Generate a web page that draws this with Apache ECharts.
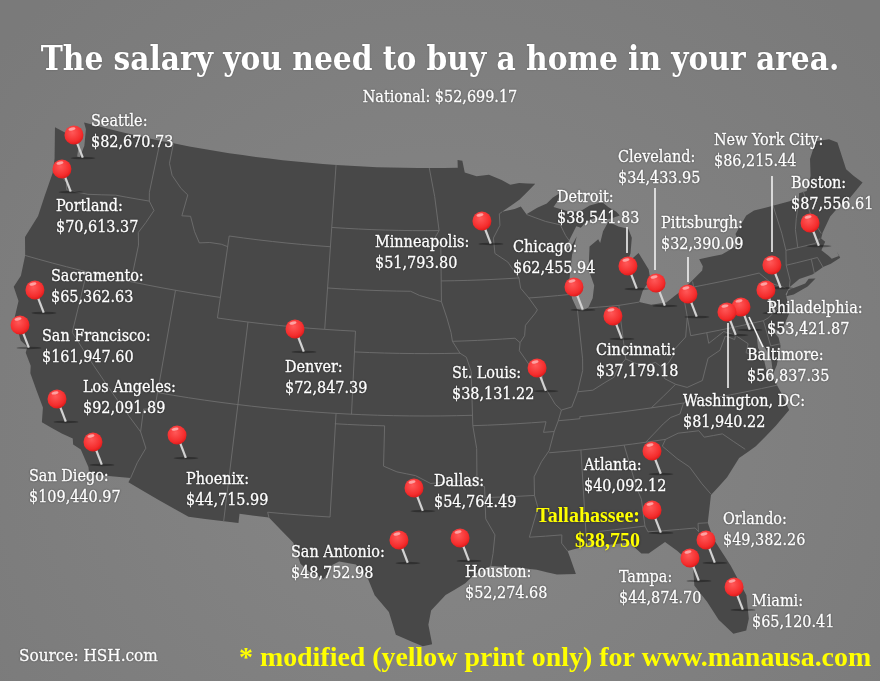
<!DOCTYPE html>
<html>
<head>
<meta charset="utf-8">
<style>html,body{margin:0;padding:0;background:#808080}#main{width:880px;height:681px}</style>
<script src="https://cdn.jsdelivr.net/npm/echarts@6/dist/echarts.min.js"></script>
</head>
<body>
<div id="main"></div>
<script>
var titleText = 'The salary you need to buy a home in your area.';
var nationalText = 'National: $52,699.17';
var sourceText = 'Source: HSH.com';
var noteText = '* modified (yellow print only) for www.manausa.com';

var cityNames = ['Seattle','Portland','Sacramento','San Francisco','Los Angeles','San Diego','Phoenix','Denver','San Antonio','Dallas','Houston','St. Louis','Minneapolis','Chicago','Cincinnati','Detroit','Cleveland','Pittsburgh','New York City','Boston','Philadelphia','Baltimore','Washington, DC','Atlanta','Tallahassee','Orlando','Tampa','Miami'];
var citySalaries = [82670.73,70613.37,65362.63,161947.60,92091.89,109440.97,44715.99,72847.39,48752.98,54764.49,52274.68,38131.22,51793.80,62455.94,37179.18,38541.83,34433.95,32390.09,86215.44,87556.61,53421.87,56837.35,81940.22,40092.12,38750,49382.26,44874.70,65120.41];
var cityLon = [-122.17,-122.37,-122.04,-122.38,-119.11,-116.50,-111.71,-105.27,-98.49,-97.65,-95.06,-90.00,-92.99,-87.17,-84.89,-83.47,-81.82,-79.91,-74.20,-71.07,-74.96,-76.75,-77.69,-83.67,-84.15,-81.43,-82.46,-80.37];
var cityLat = [47.30,45.55,39.57,37.76,34.74,33.08,34.11,39.84,29.90,32.42,29.98,37.97,45.22,41.69,40.08,42.36,41.34,40.55,41.05,42.53,39.95,39.43,39.33,33.38,30.56,28.72,27.98,26.22];

var usOutline = [[-122.76,49],[-95.15,49],[-95.15,49.38],[-94.8,49.33],[-94.65,48.75],[-93.8,48.55],[-92.9,48.6],[-92,48.3],[-91.4,48.05],[-90.75,48.1],[-89.6,48],[-90.8,47.3],[-92.1,46.75],[-91.2,46.85],[-90.75,46.95],[-90.4,46.55],[-89.6,46.83],[-88.9,47],[-88.45,47.25],[-87.8,47.47],[-88.2,47],[-88.45,46.8],[-87.4,46.5],[-86.6,46.45],[-85.9,46.68],[-85,46.77],[-84.6,46.47],[-84.1,46.2],[-83.9,46],[-84.7,45.9],[-85.5,46.08],[-86.3,45.9],[-86.7,45.65],[-87,45.75],[-87.6,45.1],[-88,44.55],[-87.4,44.9],[-87.05,45.25],[-87.5,44.4],[-87.75,43.6],[-87.9,43],[-87.8,42.3],[-87.55,41.75],[-87.2,41.65],[-86.8,41.78],[-86.45,42.2],[-86.25,42.8],[-86.5,43.6],[-86.25,44.7],[-85.6,45],[-85.5,44.8],[-85.2,45.35],[-84.75,45.78],[-84.1,45.48],[-83.45,45.3],[-83.3,44.85],[-83.55,44.1],[-83.9,43.65],[-83,44.07],[-82.5,43.2],[-82.5,42.7],[-83.1,42.25],[-83.45,41.72],[-82.7,41.5],[-81.7,41.5],[-80.5,41.97],[-79,42.7],[-78.9,42.9],[-79.05,43.27],[-77.5,43.27],[-76.5,43.5],[-76.2,43.6],[-76.3,44.1],[-75.3,44.85],[-74.7,45],[-71.5,45],[-71.4,45.25],[-70.85,45.25],[-70.3,45.9],[-70,46.7],[-69.25,47.45],[-68.3,47.35],[-67.8,47.07],[-67.8,45.7],[-67.45,45.3],[-67,44.85],[-68.2,44.3],[-69,44.1],[-69.8,43.75],[-70.6,43.1],[-70.8,42.85],[-70.6,42.65],[-71,42.3],[-70.65,41.95],[-70.5,41.77],[-70,41.8],[-70.05,42.05],[-69.95,41.7],[-70.65,41.55],[-71.2,41.5],[-71.4,41.45],[-72,41.3],[-72.9,41.25],[-73.65,40.98],[-74,40.7],[-74,40.45],[-74.1,39.75],[-74.9,38.95],[-75.55,39.5],[-75.1,38.75],[-75.1,38.35],[-75.6,37.5],[-75.95,37.12],[-75.85,37.9],[-76.2,38.7],[-76.4,39.2],[-76.5,38.5],[-76.3,37.9],[-76.3,37],[-76,36.9],[-75.75,36.2],[-75.5,35.25],[-76.5,34.65],[-77.9,33.9],[-79,33.5],[-79.9,32.7],[-81,32],[-81.45,30.7],[-81.3,29.9],[-80.6,28.45],[-80.05,26.9],[-80.15,25.75],[-80.4,25.2],[-81.1,25.15],[-81.75,25.95],[-82.2,26.9],[-82.75,27.8],[-82.65,28.8],[-83.4,29.6],[-84,30.1],[-85,29.65],[-85.4,29.7],[-86,30.3],[-87.5,30.3],[-88,30.25],[-88.1,30.65],[-88.5,30.35],[-89.5,30.2],[-89.4,29.9],[-89.15,29.05],[-90.2,29.1],[-91.3,29.4],[-92.3,29.55],[-93.85,29.7],[-94.75,29.35],[-95.3,28.9],[-96.4,28.35],[-97.2,27.6],[-97.35,26.9],[-97.15,25.95],[-97.65,25.85],[-98.2,26.05],[-99.1,26.4],[-99.5,27.5],[-100.3,28.3],[-100.7,29.1],[-101.4,29.77],[-102.35,29.87],[-102.7,29.7],[-103.15,28.98],[-104,29.3],[-104.5,29.65],[-105,30.65],[-106.5,31.75],[-108.2,31.78],[-108.2,31.33],[-111.07,31.33],[-114.8,32.5],[-114.72,32.72],[-117.12,32.53],[-117.25,32.85],[-117.9,33.6],[-118.4,33.75],[-118.5,34.03],[-119.2,34.15],[-120.5,34.45],[-120.65,35.15],[-121.9,36.6],[-122,36.96],[-122.5,37.5],[-122.5,37.8],[-123,38],[-123.75,38.95],[-123.8,39.8],[-124.35,40.4],[-124.1,41],[-124.2,42],[-124.55,42.85],[-124.1,44],[-124.05,45],[-123.95,46.2],[-124.1,46.9],[-124.7,48.38],[-123.1,48.15],[-122.75,48.15],[-122.6,47.3],[-122.4,47.3],[-122.3,47.9],[-122.5,48.7],[-122.76,49]];
var longIsland = [[-74,40.6],[-73.75,40.87],[-72.6,40.97],[-72.3,41.15],[-71.87,41.07],[-72.5,40.8],[-73.5,40.6],[-74,40.6]];
var stateBorders = [
 [[-123.95,46.25],[-123.4,46.2],[-122.85,45.95],[-122.7,45.6],[-121.2,45.65],[-119.3,45.93],[-116.92,46]],
 [[-117.03,49],[-117.04,46.42],[-116.92,46],[-116.47,45.6],[-116.85,44.95],[-117.22,44.4],[-117.03,43.8],[-117.03,42]],
 [[-124.2,42],[-111.05,42]],
 [[-120,42],[-120,39],[-114.63,35],[-114.15,34.27],[-114.5,33.5],[-114.72,32.72]],
 [[-114.04,42],[-114.04,36.2],[-114.7,36.1],[-114.63,35]],
 [[-114.04,37],[-94.62,37]],
 [[-109.05,41],[-109.05,31.33]],
 [[-111.05,45],[-111.05,41],[-104.05,41]],
 [[-116.05,49],[-116.05,48],[-115.7,47.45],[-114.9,46.9],[-114.35,46.65],[-114.5,45.6],[-113.9,45.65],[-113.45,44.95],[-113,44.45],[-112.3,44.55],[-111.5,44.55],[-111.05,44.48]],
 [[-111.05,45],[-104.05,45]],
 [[-104.05,49],[-104.05,41],[-102.05,41],[-102.05,37]],
 [[-102.05,40],[-95.3,40]],
 [[-103,37],[-103,32],[-106.6,32],[-106.5,31.75]],
 [[-103.04,36.5],[-100,36.5],[-100,34.56],[-99.2,34.3],[-98.1,34.13],[-97.2,33.75],[-96.5,33.8],[-95.3,33.88],[-94.48,33.64]],
 [[-94.62,36.5],[-94.43,35.4],[-94.48,33.64],[-94.04,33.55],[-94.04,31.99],[-93.55,31.2],[-93.7,30.3],[-93.85,29.7]],
 [[-94.04,33.02],[-91.15,33]],
 [[-104.05,45.94],[-96.56,45.94]],
 [[-104.05,43],[-98.5,43],[-97.9,42.8],[-96.45,42.5]],
 [[-97.23,49],[-96.85,47.6],[-96.56,45.94],[-96.85,45.6],[-96.45,45.3],[-96.45,42.5],[-96.1,41.7],[-95.85,41],[-95.77,40.58],[-95.3,40],[-94.9,39.8],[-94.62,39.1],[-94.62,36.5],[-90.15,36.5],[-90.35,36],[-89.7,36]],
 [[-96.45,43.5],[-91.22,43.5]],
 [[-95.77,40.58],[-91.73,40.61],[-91.42,40.38],[-91.1,40.7],[-91,41.2],[-90.3,41.75],[-90.15,41.9],[-90.65,42.5],[-91.15,43],[-91.22,43.5],[-91.9,44.3],[-92.75,44.75],[-92.8,45.5],[-92.3,46.1],[-92.3,46.66],[-92.1,46.75]],
 [[-90.65,42.5],[-87.8,42.5]],
 [[-90.4,46.55],[-89.1,46.13],[-88.1,45.9],[-87.8,45.35],[-87.6,45.1]],
 [[-87.53,41.7],[-87.53,39.35],[-87.6,38.8],[-88.05,37.8]],
 [[-91.42,40.38],[-91.5,40],[-90.7,39],[-90.15,38.8],[-90.2,38.4],[-89.5,37.3],[-89.15,37],[-88.5,37.1],[-88.05,37.8],[-87.1,37.8],[-86.3,38.1],[-85.7,38.3],[-85.4,38.7],[-84.82,39.1],[-84.3,38.85],[-83.7,38.65],[-83,38.73],[-82.6,38.42],[-82.6,37.9],[-81.97,37.54],[-83.67,36.6]],
 [[-84.82,39.1],[-84.8,41.7]],
 [[-86.82,41.76],[-84.8,41.7],[-83.45,41.72]],
 [[-80.52,41.97],[-80.52,39.72]],
 [[-80.52,40.64],[-80.85,39.7],[-81.7,39.2],[-81.75,39],[-82.2,38.6],[-82.6,38.42]],
 [[-81.97,37.54],[-81.3,37.3],[-80.3,37.5],[-79.7,38.5],[-78.87,38.77],[-78.35,39.4],[-77.83,39.13],[-77.72,39.32]],
 [[-80.52,39.72],[-75.79,39.72],[-75.42,39.8],[-75.1,39.95],[-74.72,40.15],[-75.2,40.7],[-74.7,41.36],[-75.35,42],[-79.76,42],[-79.76,42.27]],
 [[-79.48,39.72],[-79.48,39.2],[-78.4,39.62],[-77.72,39.32],[-77.05,38.8],[-77.3,38.4],[-76.3,37.95]],
 [[-75.79,39.72],[-75.7,38.46],[-75.05,38.45]],
 [[-74.7,41.36],[-73.9,41]],
 [[-73.65,41],[-73.5,41.3],[-73.5,42.05],[-73.27,42.75],[-73.25,43.6],[-73.35,45]],
 [[-72.46,42.73],[-72.3,43.6],[-72.05,44.1],[-71.5,45]],
 [[-73.27,42.75],[-71.3,42.7],[-70.85,42.87]],
 [[-70.7,43.08],[-71.03,43.9],[-71.08,45.3]],
 [[-73.5,42.05],[-71.38,42.02],[-71.2,41.5]],
 [[-71.8,42.02],[-71.85,41.32]],
 [[-75.87,36.55],[-81.68,36.59],[-83.67,36.6],[-88.07,36.6],[-88.07,36.5],[-89.4,36.5],[-89.7,36],[-90.1,35.1],[-90.6,34.6],[-91.1,33.9],[-91.15,33],[-91,32.4],[-91.6,31],[-89.75,31],[-89.8,30.6],[-89.5,30.2]],
 [[-89.15,37],[-89.4,36.5]],
 [[-81.68,36.59],[-82,36.1],[-82.6,36],[-83.1,35.75],[-84.3,35]],
 [[-90.1,35],[-83.1,35]],
 [[-88.2,35],[-88.4,30.35]],
 [[-85.6,35],[-85.18,32.85],[-85,32.3],[-85,31],[-84.87,30.7],[-82.2,30.55],[-82.05,30.35],[-82,30.75],[-81.45,30.7]],
 [[-87.6,31],[-85,31]],
 [[-87.6,31],[-87.45,30.4]],
 [[-83.1,35],[-82.3,35.2],[-81.05,35.15],[-80.8,34.8],[-79.7,34.8],[-78.55,33.86]],
 [[-83.1,35],[-83.35,34.7],[-82.6,34],[-81.95,33.5],[-81.4,32.6],[-81,32.05]]
];

// where each label block starts on the page, same order as cityNames
var labelX = [91,56,51,42,83,29,186,285,291,434,465,452,375,513,596,557,618,661,714,791,767,747,683,584,640,723,619,752];
var labelY = [112,197,267,327,378,467,470,358,543,472,563,364,233,238,341,188,148,214,131,174,299,346,392,456,505,510,568,592];
// white leader lines from a label to its pin: x1,y1,x2,y2
var leaders = [[627,227,627,253],[655,188,655,270],[688,257,688,282],[772,176,772,252],[749,317,763,347],[728,323,728,388]];

// albers conic, output is already page pixels
var lon0 = -97.5, lat0 = 37.5, X0 = 425.6, Y0 = 405.6, S = 1180;
var rad = Math.PI / 180;
var n = (Math.sin(29.5*rad) + Math.sin(45.5*rad)) / 2;
var C = Math.cos(29.5*rad)*Math.cos(29.5*rad) + 2*n*Math.sin(29.5*rad);
var rho0 = Math.sqrt(C - 2*n*Math.sin(lat0*rad)) / n;
function albers(p){
	var rho = Math.sqrt(C - 2*n*Math.sin(p[1]*rad)) / n;
	var th = n*(p[0]-lon0)*rad;
	return [X0 + S*rho*Math.sin(th), Y0 - S*(rho0 - rho*Math.cos(th))];
}
function unalbers(p){
	var x = (p[0]-X0)/S, y = (Y0-p[1])/S;
	var rho = Math.sqrt(x*x + (rho0-y)*(rho0-y));
	var th = Math.atan2(x, rho0-y);
	return [lon0 + th/n/rad, Math.asin((C-rho*rho*n*n)/(2*n))/rad];
}
// long straight borders have to follow the curve of the projection
function densify(line){
	var out = [];
	for(var i=0;i<line.length-1;i++){
		var k = Math.max(1, Math.ceil(Math.abs(line[i+1][0]-line[i][0])));
		for(var j=0;j<k;j++){
			out.push([line[i][0]+(line[i+1][0]-line[i][0])*j/k, line[i][1]+(line[i+1][1]-line[i][1])*j/k]);
		}
	}
	out.push(line[line.length-1]);
	return out;
}
var ring = densify(usOutline);
var minX=1e9,minY=1e9,maxX=-1e9,maxY=-1e9;
ring.concat(longIsland).forEach(function(p){
	var q = albers(p);
	minX=Math.min(minX,q[0]);maxX=Math.max(maxX,q[0]);minY=Math.min(minY,q[1]);maxY=Math.max(maxY,q[1]);
});
echarts.registerMap('usa',{type:'FeatureCollection',features:[{type:'Feature',properties:{name:'USA'},geometry:{type:'MultiPolygon',coordinates:[[ring],[longIsland]]}}]});

function money(v){
	var whole = Math.round(v) == v;
	return '$' + v.toLocaleString('en-US',{minimumFractionDigits:whole?0:2,maximumFractionDigits:2});
}
var points = cityNames.map(function(name,i){ return {name:name,value:[cityLon[i],cityLat[i],citySalaries[i]]}; });

var slab = '"DejaVu Serif Condensed","DejaVu Serif",serif';
var yellow = '#ffff00';
var labelData = points.map(function(p,i){
	var d = {name:p.name,value:p.value};
	if(p.name=='Tallahassee'){
		d.label = {
			align:'right',
			textBorderWidth:0,
			formatter:function(a){ return '{a|'+a.name+':}\n{b|'+money(a.value[2])+'}'; },
			rich:{
				a:{fontFamily:'"Liberation Serif",serif',fontWeight:'bold',fontSize:20,color:yellow,align:'right',lineHeight:24,textShadowColor:'rgba(0,0,0,.45)',textShadowBlur:3},
				b:{fontFamily:'"Liberation Serif",serif',fontWeight:'bold',fontSize:20,color:yellow,align:'right',lineHeight:26,textShadowColor:'rgba(0,0,0,.45)',textShadowBlur:3}
			}
		};
	}
	return d;
});

// a pin is stacked from 4 scatter series over the same points
function pinSeries(z,opt){
	var s = {type:'scatter',coordinateSystem:'geo',silent:true,z:z,data:points};
	for(var k in opt){ s[k]=opt[k]; }
	return s;
}

var chart = echarts.init(document.getElementById('main'));
chart.setOption({
	animation:false,
	backgroundColor:{type:'radial',x:0.5,y:0.62,r:0.85,colorStops:[{offset:0,color:'#878787'},{offset:1,color:'#7a7a7a'}]},
	title:[
		{text:titleText,left:'center',top:40,textStyle:{fontFamily:slab,fontWeight:'bold',fontSize:33,color:'#fff',textShadowColor:'rgba(0,0,0,.25)',textShadowBlur:2}},
		{text:nationalText,left:'center',top:85,textStyle:{fontFamily:slab,fontWeight:'normal',fontSize:16,color:'#fff',textBorderColor:'#fff',textBorderWidth:0.35,textShadowColor:'rgba(0,0,0,.35)',textShadowBlur:2}},
		{text:sourceText,left:14,top:643,textStyle:{fontFamily:slab,fontWeight:'normal',fontSize:17,color:'#fff',textBorderColor:'#fff',textBorderWidth:0.35,textShadowColor:'rgba(0,0,0,.35)',textShadowBlur:2}},
		{text:noteText,left:234,top:640,textStyle:{fontFamily:'"Liberation Serif",serif',fontWeight:'bold',fontSize:27.9,color:yellow}}
	],
	geo:{map:'usa',silent:true,left:minX,top:minY,width:maxX-minX,height:maxY-minY,
		projection:{project:albers,unproject:unalbers},
		itemStyle:{areaColor:'#484848',borderWidth:0},label:{show:false}},
	graphic:leaders.map(function(l){
		return {type:'line',z:3,silent:true,shape:{x1:l[0],y1:l[1],x2:l[2],y2:l[3]},style:{stroke:'#f2f2f2',lineWidth:1.6}};
	}),
	series:[
		{type:'lines',coordinateSystem:'geo',polyline:true,silent:true,z:1,lineStyle:{color:'#6e6e6e',width:0.9,opacity:1},
			data:stateBorders.map(function(b){return {coords:densify(b)};})},
		pinSeries(2,{symbol:'circle',symbolSize:[25,2.5],itemStyle:{color:'rgba(0,0,0,0.32)',opacity:1}}),
		pinSeries(4,{symbol:'rect',symbolSize:[2.2,24],symbolRotate:21,symbolOffset:[-4.5,-11.5],itemStyle:{color:'#d2d2d2',opacity:1}}),
		pinSeries(5,{symbol:'circle',symbolSize:19,symbolOffset:[-9,-23],
			itemStyle:{opacity:1,color:{type:'radial',x:0.42,y:0.36,r:0.66,colorStops:[{offset:0,color:'#ff5858'},{offset:0.75,color:'#f42c2c'},{offset:1,color:'#dc1a1a'}]}}}),
		pinSeries(6,{symbol:'circle',symbolSize:[7,3],symbolOffset:[-11,-29],symbolRotate:12,itemStyle:{color:'rgba(255,200,200,0.7)',opacity:1}}),
		{type:'scatter',coordinateSystem:'geo',silent:true,z:7,symbolSize:1,itemStyle:{color:'transparent',opacity:1},data:labelData,
			label:{show:true,color:'#fff',fontFamily:slab,fontSize:16,lineHeight:20.5,align:'left',verticalAlign:'top',opacity:1,
				textBorderColor:'#fff',textBorderWidth:0.35,textShadowColor:'rgba(0,0,0,.4)',textShadowBlur:2,
				formatter:function(a){ return a.name+':\n'+money(a.value[2]); }},
			labelLayout:function(a){ return {x:labelX[a.dataIndex],y:labelY[a.dataIndex]}; }}
	]
});
</script>
</body>
</html>
